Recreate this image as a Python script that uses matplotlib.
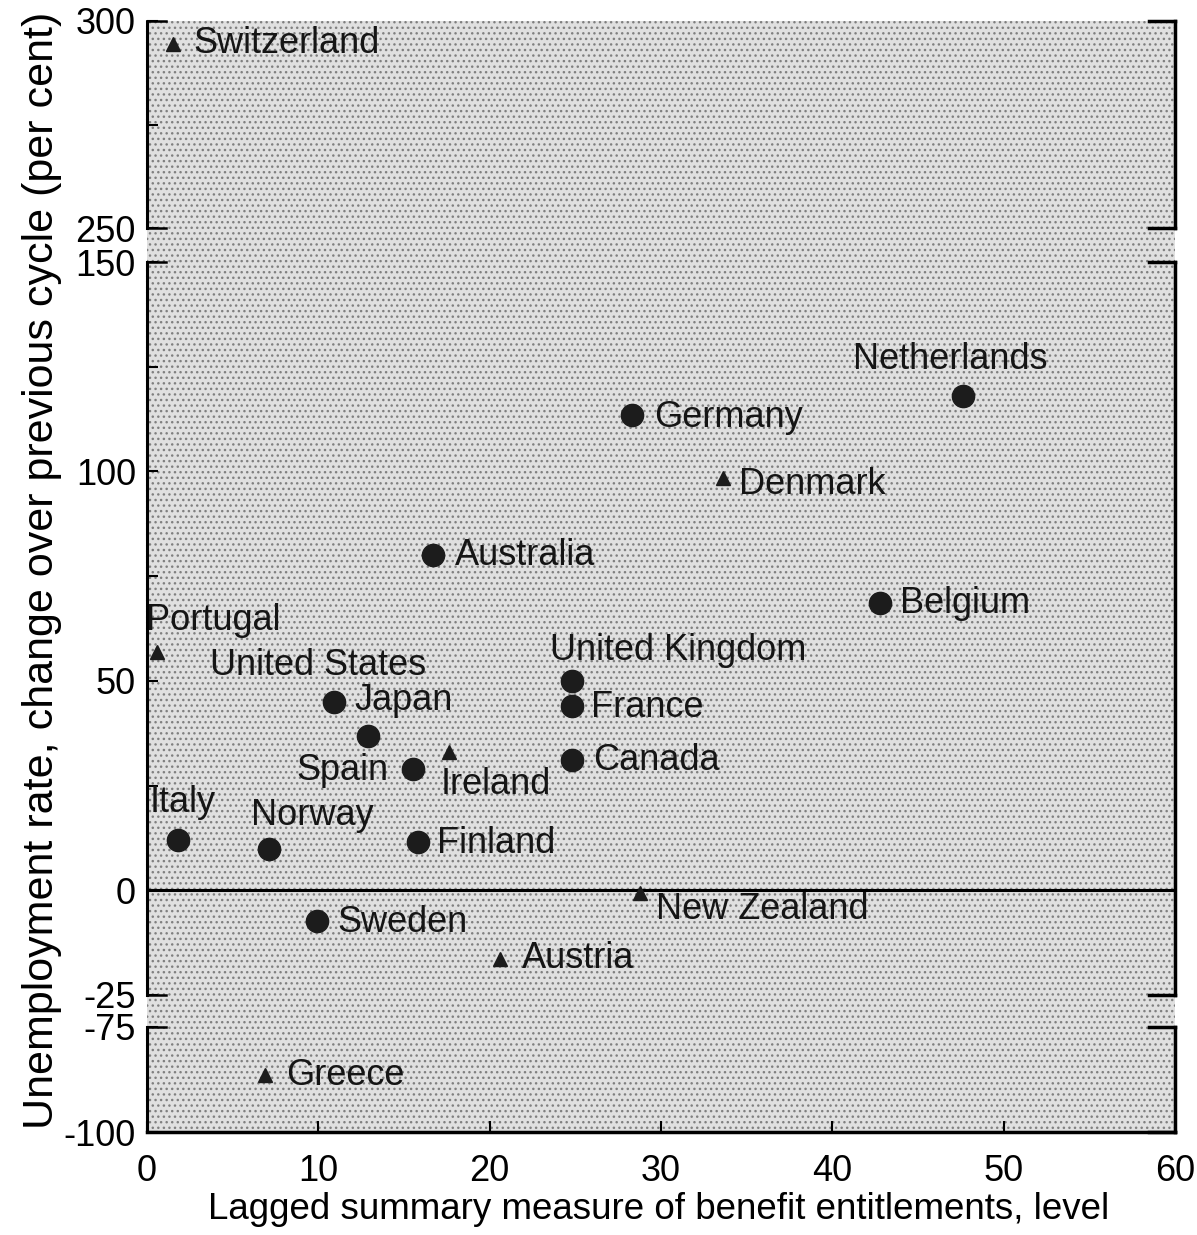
import numpy as np
import matplotlib
matplotlib.use('Agg')
import matplotlib.pyplot as plt
from matplotlib.patches import Rectangle

plt.rcParams['font.family'] = ['Liberation Sans', 'DejaVu Sans']
plt.rcParams['hatch.linewidth'] = 1.0

# data
countries = ['Switzerland', 'Netherlands', 'Germany', 'Denmark', 'Australia',
             'Belgium', 'Portugal', 'United States', 'United Kingdom', 'France',
             'Japan', 'Spain', 'Ireland', 'Canada', 'Italy', 'Norway',
             'Finland', 'New Zealand', 'Sweden', 'Austria', 'Greece']
benefit = [1.5, 47.6, 28.3, 33.6, 16.7, 42.8, 0.6, 12.9, 24.8, 24.8,
           10.9, 15.5, 17.6, 24.8, 1.8, 7.1, 15.8, 28.8, 9.9, 20.6, 6.9]
unemp_change = [294.5, 118, 113.5, 98.5, 80, 68.7, 57, 36.8, 50, 44,
                45, 29, 33, 31, 12, 9.8, 11.5, -0.7, -7.4, -16.3, -86.5]
marker_kind = ['^', 'o', 'o', '^', 'o', 'o', '^', 'o', 'o', 'o',
               'o', 'o', '^', 'o', 'o', 'o', 'o', '^', 'o', '^', '^']

# label placement, offset points from the marker
label_pos = {
    'Switzerland': (15, 0, 'left'), 'Netherlands': (-9, 26, 'center'),
    'Germany': (16, -2, 'left'), 'Denmark': (12, -5, 'left'),
    'Australia': (16, 0, 'left'), 'Belgium': (14, -1, 'left'),
    'Portugal': (-8, 22, 'left'), 'United States': (-36, 51, 'center'),
    'United Kingdom': (-16, 22, 'left'), 'France': (14, -1, 'left'),
    'Japan': (15, 1, 'left'), 'Spain': (-17, -1, 'right'),
    'Ireland': (-6, -23, 'left'), 'Canada': (15, 0, 'left'),
    'Italy': (-20, 27, 'left'), 'Norway': (-13, 24, 'left'),
    'Finland': (14, -1, 'left'), 'New Zealand': (11, -12, 'left'),
    'Sweden': (15, -1, 'left'), 'Austria': (16, 0, 'left'),
    'Greece': (15, 0, 'left'),
}

W, H = 1197, 1235
fig = plt.figure(figsize=(W / 100, H / 100), dpi=100)

def rect(top_px, bot_px, left_px=147, right_px=1175):
    return [left_px / W, 1 - bot_px / H, (right_px - left_px) / W, (bot_px - top_px) / H]

# stippled background behind all three panels
bg = fig.add_axes(rect(21, 1132), zorder=0)
bg.set_xlim(0, 1); bg.set_ylim(0, 1)
bg.add_patch(Rectangle((0, 0), 1, 1, facecolor='#e0e0e0', edgecolor='#808080',
                       hatch='...', lw=0))
bg.set_xticks([]); bg.set_yticks([])
for s in bg.spines.values():
    s.set_visible(False)

ax_top = fig.add_axes(rect(21, 228), zorder=1)
ax_mid = fig.add_axes(rect(262, 995), zorder=1)
ax_bot = fig.add_axes(rect(1027, 1132), zorder=1)

panels = [
    (ax_top, (250, 300), [250, 300], [275]),
    (ax_mid, (-25, 150), [-25, 0, 50, 100, 150], [25, 75, 125]),
    (ax_bot, (-100, -75), [-100, -75], []),
]

fs = 26
for ax, (lo, hi), major, minor in panels:
    ax.set_xlim(0, 60)
    ax.set_ylim(lo, hi)
    ax.patch.set_alpha(0)
    ax.set_yticks(major)
    ax.set_yticks(minor, minor=True)
    ax.set_yticklabels([str(v) for v in major])
    ax.tick_params(axis='y', which='both', direction='in', length=8, width=1.5,
                   labelsize=fs, pad=8)
    for s in ['top', 'bottom']:
        ax.spines[s].set_visible(False)
    ax.spines['left'].set_linestyle((0, (1, 0.8)))
    ax.spines['left'].set_linewidth(2.2)
    ax.spines['right'].set_linewidth(2.5)
    # bracket caps
    for yy in (0, 1):
        ax.plot([0, 0.018], [yy, yy], transform=ax.transAxes, color='black',
                lw=1.8, clip_on=False)
        ax.plot([0.975, 1], [yy, yy], transform=ax.transAxes, color='black',
                lw=2.5, clip_on=False)
    if ax is ax_bot:
        ax.spines['bottom'].set_visible(True)
        ax.spines['bottom'].set_linewidth(2.5)
        ax.set_xticks(range(0, 61, 10))
        ax.tick_params(axis='x', direction='in', length=8, width=1.5,
                       labelsize=fs, pad=16)
    else:
        ax.set_xticks([])

ax_mid.axhline(0, color='black', lw=2.2, zorder=2)

for name, xv, yv, mk in zip(countries, benefit, unemp_change, marker_kind):
    if yv >= 250:
        ax = ax_top
    elif yv >= -25:
        ax = ax_mid
    else:
        ax = ax_bot
    ms = 16 if mk == 'o' else 10
    ax.plot(xv, yv, marker=mk, ms=ms, color='#1c1c1c', ls='none', zorder=3)
    dx, dy, ha = label_pos[name]
    ax.annotate(name, (xv, yv), xytext=(dx, dy), textcoords='offset points',
                ha=ha, va='center', fontsize=fs, color='#151515', zorder=4)

fig.text(0.035, 0.538, 'Unemployment rate, change over previous cycle (per cent)',
         rotation=90, ha='center', va='center', fontsize=31)
fig.text(0.55, 0.021, 'Lagged summary measure of benefit entitlements, level',
         ha='center', va='center', fontsize=26.5)

fig.savefig('out.png', dpi=100)
